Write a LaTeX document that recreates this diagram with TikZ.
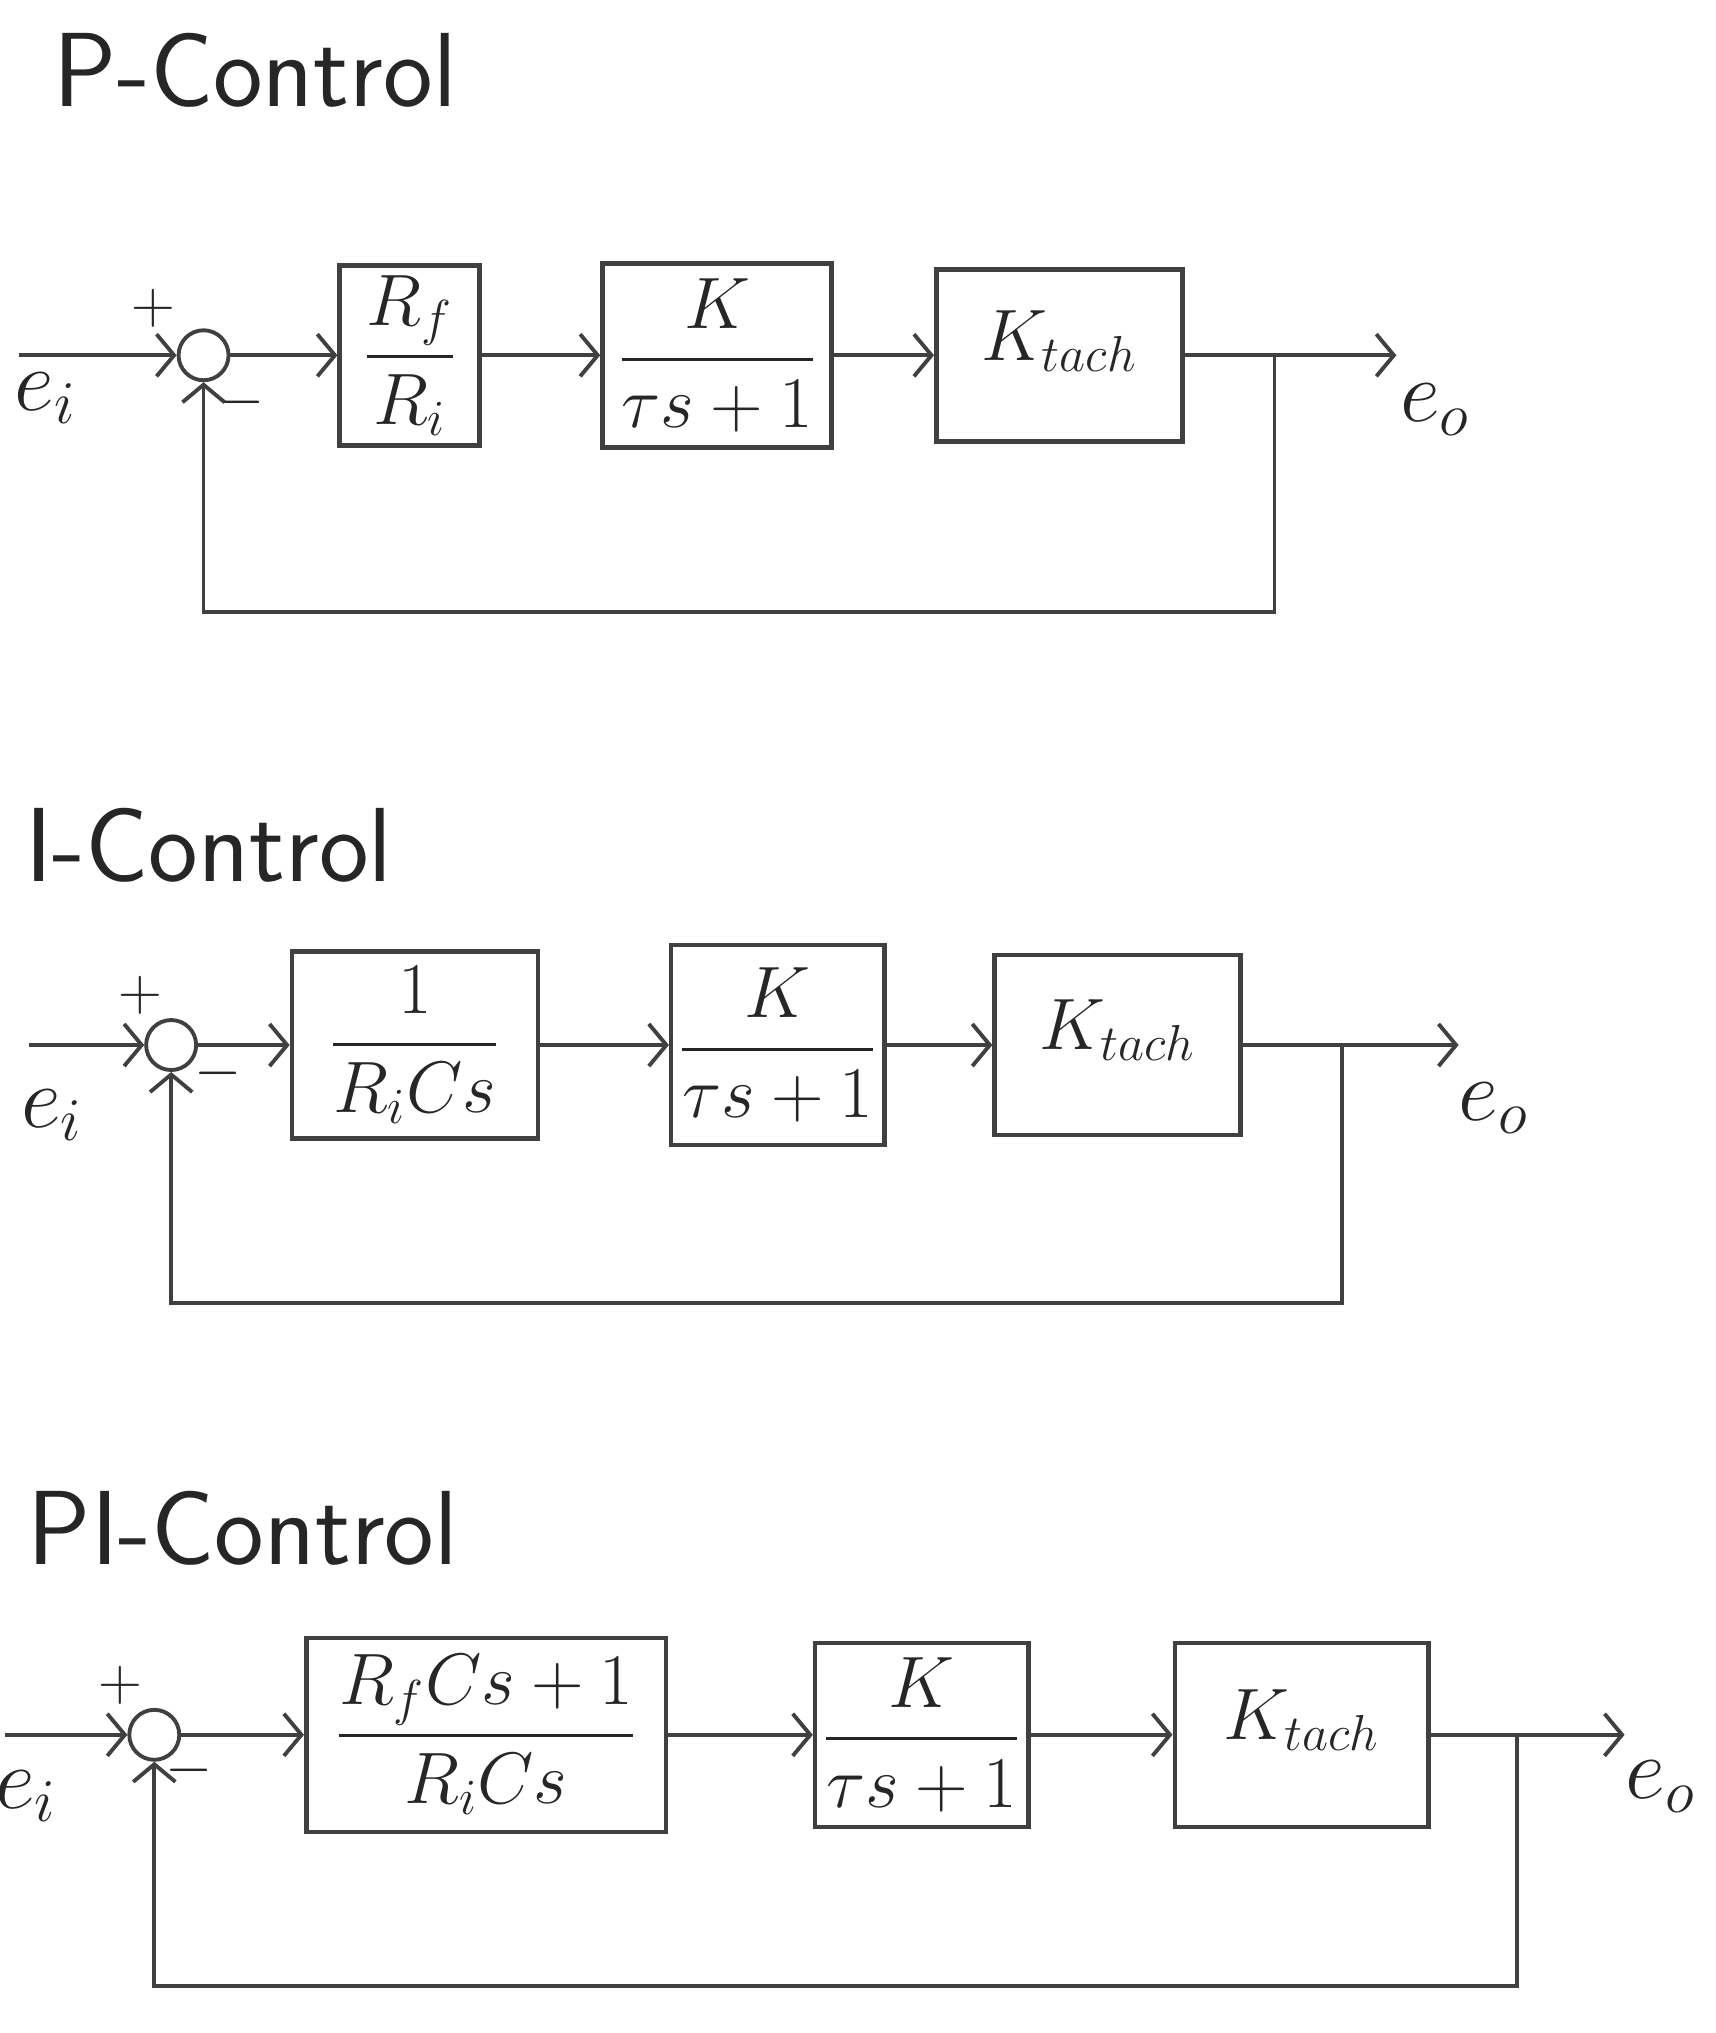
\documentclass[tikz,border=0pt]{standalone}
\usepackage{amsmath}
\usetikzlibrary{arrows.meta}
\begin{document}
\begin{tikzpicture}[x=0.012963cm, y=-0.012963cm,
  line width=1.1pt, draw=black!75, text=black!85,
  >={Straight Barb[length=5pt,width=12pt]},
  every node/.style={font=\fontsize{24}{28}\selectfont},
  sum/.style={circle, draw, minimum size=0.5cm, inner sep=0pt},
  block/.style={draw, line width=1.3pt, inner sep=2pt, font=\fontsize{20}{24}\selectfont},
  tachbox/.style={block, font=\fontsize{22}{26}\selectfont, text depth=0.4cm},
  sign/.style={font=\fontsize{16}{18}\selectfont, inner sep=0pt},
  signal/.style={font=\fontsize{26}{30}\selectfont, inner sep=0pt},
  title/.style={font=\sffamily\fontsize{30}{34}\selectfont, anchor=base west, inner sep=0pt}]
\useasboundingbox (0,0) rectangle (1323,1568);

% P-Control
\node[title] (p-title) at (40,82) {P-Control};
\coordinate (p-in) at (15,274);
\node[sum] (p-sum) at (157,274) {};
\node[sign] (p-plus) at (118,238) {$+$};
\node[sign] (p-minus) at (186,310) {$-$};
\node[signal] (p-ei) at (35,307) {$e_i$};
\node[block, minimum width=1.40cm, minimum height=1.80cm] (p-gain) at (316,274) {$\dfrac{R_f}{R_i}$};
\node[block, minimum width=2.29cm, minimum height=1.84cm] (p-plant) at (553,274) {$\dfrac{K}{\tau s+1}$};
\node[tachbox, minimum width=2.46cm, minimum height=1.72cm] (p-tach) at (817,274) {$K_{tach}$};
\coordinate (p-br) at (983,274);
\coordinate (p-out) at (1077,274);
\coordinate (p-low) at (157,472);
\node[signal] (p-eo) at (1107,316) {$e_o$};

\draw[->] (p-in) -- (p-sum);
\draw[->] (p-sum) -- (p-gain);
\draw[->] (p-gain) -- (p-plant);
\draw[->] (p-plant) -- (p-tach);
\draw[->] (p-tach) -- (p-out);
\draw[->] (p-br) |- (p-low) -- (p-sum);

% I-Control
\node[title] (i-title) at (18,680) {I-Control};
\coordinate (i-in) at (22,806);
\node[sum] (i-sum) at (132,806) {};
\node[sign] (i-plus) at (108,768) {$+$};
\node[sign] (i-minus) at (168,828) {$-$};
\node[signal] (i-ei) at (40,860) {$e_i$};
\node[block, minimum width=2.46cm, minimum height=1.87cm] (i-gain) at (320,806) {$\dfrac{1}{R_iCs}$};
\node[block, minimum width=2.13cm, minimum height=2.00cm] (i-plant) at (600,806) {$\dfrac{K}{\tau s+1}$};
\node[tachbox, minimum width=2.46cm, minimum height=1.80cm] (i-tach) at (862,806) {$K_{tach}$};
\coordinate (i-br) at (1035,806);
\coordinate (i-out) at (1125,806);
\coordinate (i-low) at (132,1005);
\node[signal] (i-eo) at (1152,855) {$e_o$};

\draw[->] (i-in) -- (i-sum);
\draw[->] (i-sum) -- (i-gain);
\draw[->] (i-gain) -- (i-plant);
\draw[->] (i-plant) -- (i-tach);
\draw[->] (i-tach) -- (i-out);
\draw[->] (i-br) |- (i-low) -- (i-sum);

% PI-Control
\node[title] (pi-title) at (20,1207) {PI-Control};
\coordinate (pi-in) at (4,1338);
\node[sum] (pi-sum) at (119,1338) {};
\node[sign] (pi-plus) at (93,1300) {$+$};
\node[sign] (pi-minus) at (146,1365) {$-$};
\node[signal] (pi-ei) at (20,1385) {$e_i$};
\node[block, minimum width=3.60cm, minimum height=1.94cm] (pi-gain) at (375,1338) {$\dfrac{R_fCs+1}{R_iCs}$};
\node[block, minimum width=2.05cm, minimum height=1.84cm] (pi-plant) at (711,1338) {$\dfrac{K}{\tau s+1}$};
\node[tachbox, minimum width=2.54cm, minimum height=1.84cm] (pi-tach) at (1004,1338) {$K_{tach}$};
\coordinate (pi-br) at (1170,1338);
\coordinate (pi-out) at (1253,1338);
\coordinate (pi-low) at (119,1532);
\node[signal] (pi-eo) at (1281,1378) {$e_o$};

\draw[->] (pi-in) -- (pi-sum);
\draw[->] (pi-sum) -- (pi-gain);
\draw[->] (pi-gain) -- (pi-plant);
\draw[->] (pi-plant) -- (pi-tach);
\draw[->] (pi-tach) -- (pi-out);
\draw[->] (pi-br) |- (pi-low) -- (pi-sum);

\end{tikzpicture}
\end{document}
